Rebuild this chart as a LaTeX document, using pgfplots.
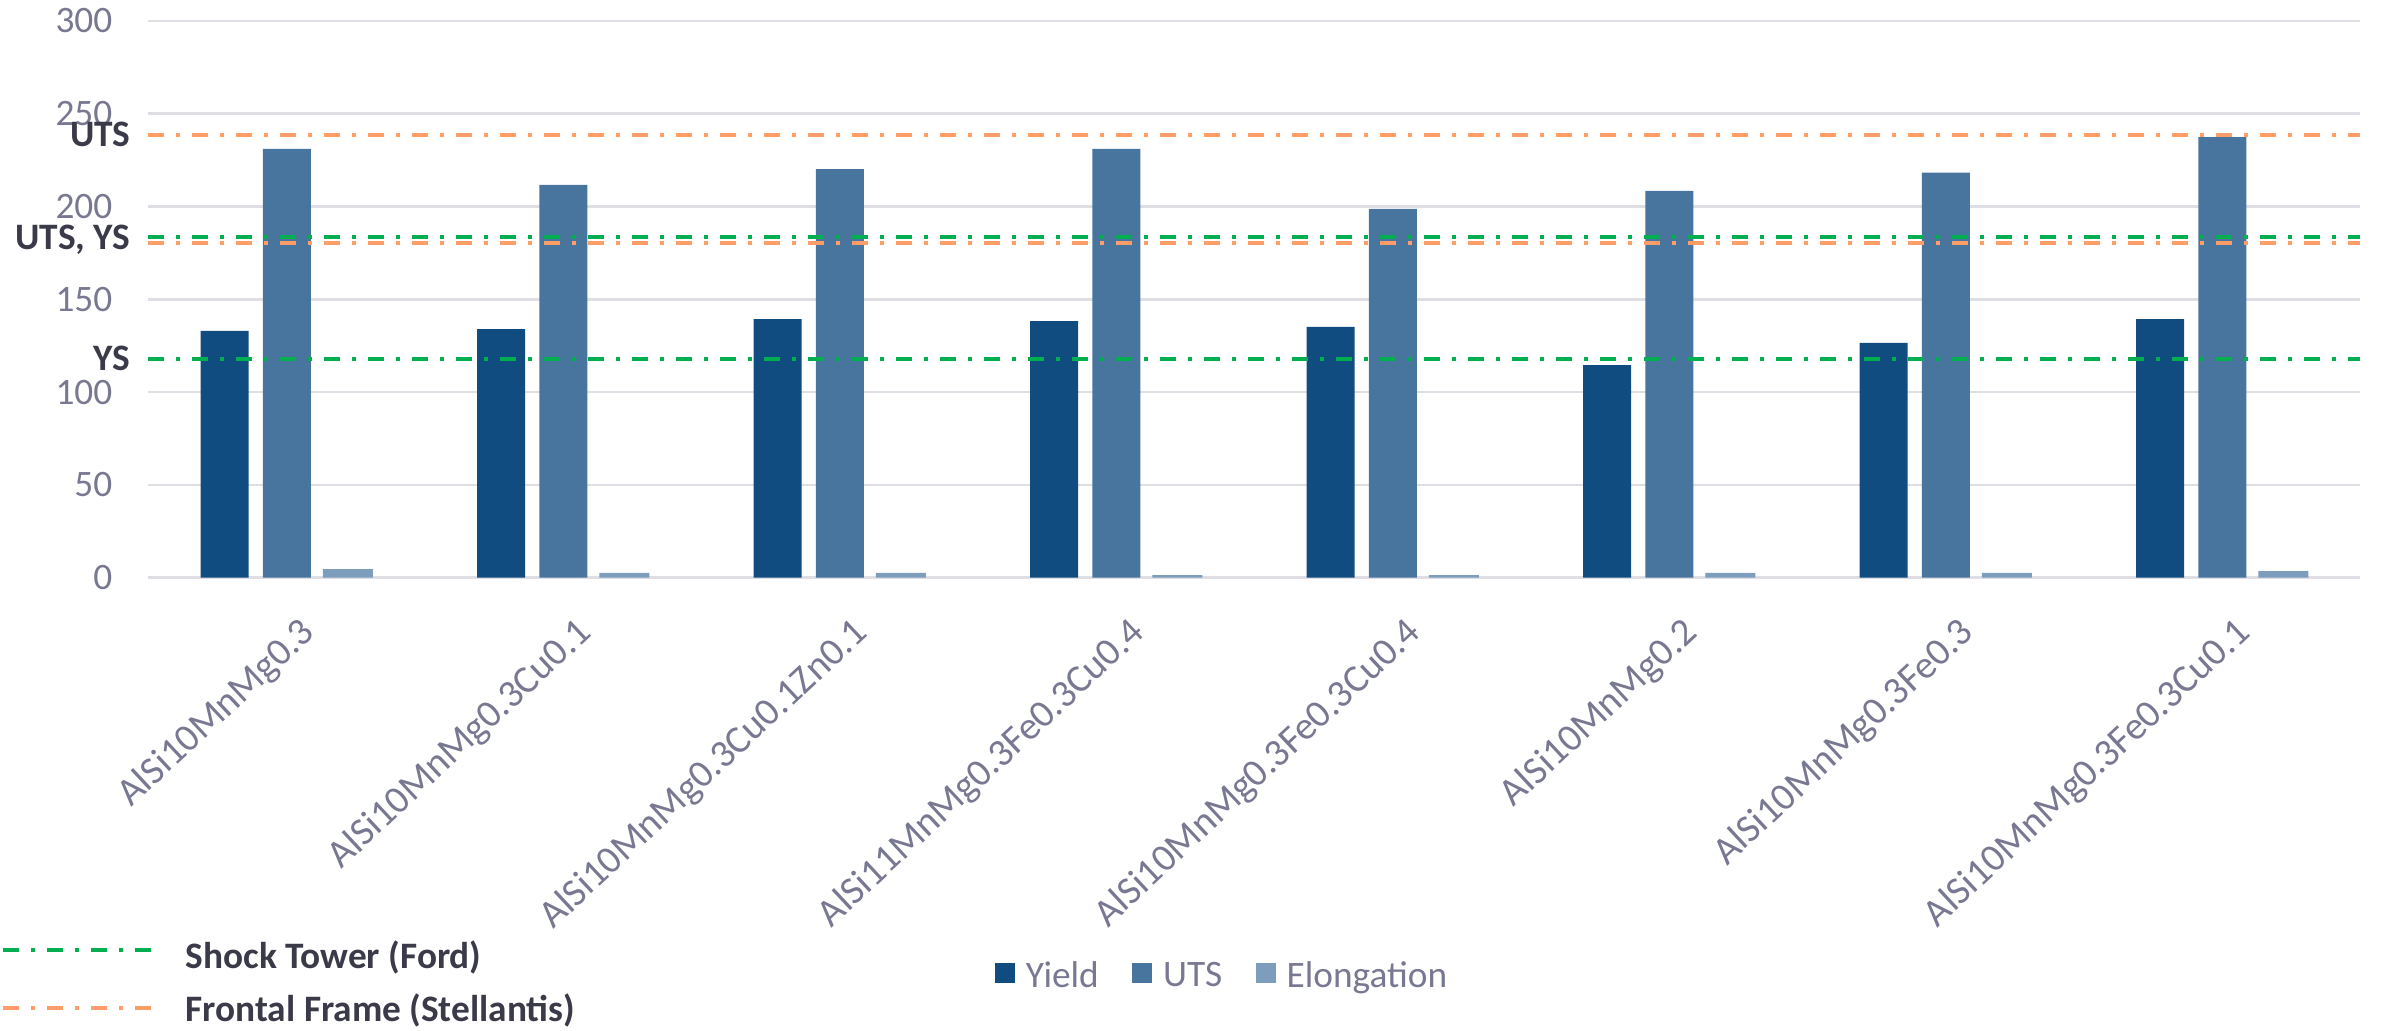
\documentclass[border=0pt]{standalone}
\usepackage{fontspec}
\setmainfont{Carlito}
\usepackage{pgfplots}
\pgfplotsset{compat=1.18}
\definecolor{tickc}{RGB}{120,120,146}
\definecolor{darkc}{RGB}{58,58,72}
\definecolor{gridc}{RGB}{222,222,228}
\definecolor{yieldc}{RGB}{17,76,128}
\definecolor{utsc}{RGB}{72,117,157}
\definecolor{elongc}{RGB}{124,157,188}
\definecolor{greenc}{RGB}{0,176,80}
\definecolor{orangec}{RGB}{255,157,104}
\tikzset{refdash/.style={line width=1.2pt, dash pattern=on 4.8pt off 3.6pt on 1.2pt off 3.6pt}}
\begin{document}
\fontsize{11.2pt}{13pt}\selectfont
\begin{tikzpicture}
\path[use as bounding box] (0pt,0pt) rectangle (714.6pt,-309pt);
\begin{axis}[
  at={(44.4pt,-173.31pt)}, anchor=south west,
  scale only axis, width=663.6pt, height=167.04pt,
  xmin=-0.5, xmax=7.5, ymin=0, ymax=300,
  ytick={0,50,...,300},
  xtick={0,...,7},
  xticklabels={AlSi10MnMg0.3,AlSi10MnMg0.3Cu0.1,AlSi10MnMg0.3Cu0.1Zn0.1,AlSi11MnMg0.3Fe0.3Cu0.4,AlSi10MnMg0.3Fe0.3Cu0.4,AlSi10MnMg0.2,AlSi10MnMg0.3Fe0.3,AlSi10MnMg0.3Fe0.3Cu0.1},
  ymajorgrids, grid style={draw=gridc, line width=0.75pt},
  axis line style={draw=none},
  major tick length=0pt,
  tick label style={text=tickc},
  /pgf/number format/assume math mode=true,
  yticklabel style={anchor=east, inner sep=0pt, xshift=-10.5pt},
  xticklabel style={xshift=3.5pt, yshift=-11pt, rotate=43, anchor=north east, inner sep=0pt, font=\fontsize{11.7pt}{13pt}\selectfont},
  clip=false,
  legend columns=3,
  legend style={at={(0.4851,-0.7171)}, anchor=center, draw=none, fill=none,
    text=tickc, inner sep=0pt, nodes={inner sep=0pt},
    /tikz/every odd column/.style={column sep=3.3pt},
    /tikz/every even column/.style={column sep=10pt}},
]
\addplot[ybar, bar width=14.4pt, bar shift=-18.5pt, fill=yieldc, draw=none,
  legend image code/.code={\fill[yieldc] (0pt,-1.8pt) rectangle (6pt,4.2pt);}]
  coordinates {(0,133) (1,134) (2,139.4) (3,138.3) (4,135.1) (5,114.6) (6,126.5) (7,139.4)};
\addlegendentry{Yield}
\addplot[ybar, bar width=14.4pt, bar shift=0.2pt, fill=utsc, draw=none,
  legend image code/.code={\fill[utsc] (0pt,-1.8pt) rectangle (6pt,4.2pt);}]
  coordinates {(0,231.0) (1,211.6) (2,220.2) (3,231.0) (4,198.8) (5,208.4) (6,218.2) (7,237.4)};
\addlegendentry{UTS}
\addplot[ybar, bar width=15pt, bar shift=18.5pt, fill=elongc, draw=none,
  legend image code/.code={\fill[elongc] (0pt,-1.8pt) rectangle (6pt,4.2pt);}]
  coordinates {(0,4.7) (1,2.6) (2,2.6) (3,1.4) (4,1.4) (5,2.6) (6,2.6) (7,3.6)};
\addlegendentry{Elongation}
\addplot[orangec, refdash, forget plot] coordinates {(-0.5,238.7) (7.5,238.7)};
\addplot[greenc, refdash, forget plot] coordinates {(-0.5,183.7) (7.5,183.7)};
\addplot[orangec, refdash, forget plot] coordinates {(-0.5,180.5) (7.5,180.5)};
\addplot[greenc, refdash, forget plot] coordinates {(-0.5,118) (7.5,118)};
\node[anchor=east, inner sep=0pt, font=\bfseries, text=darkc, xshift=-5.1pt] at (axis cs:-0.5,238.7) {UTS};
\node[anchor=east, inner sep=0pt, font=\bfseries, text=darkc, xshift=-5.1pt] at (axis cs:-0.5,182.1) {UTS, YS};
\node[anchor=east, inner sep=0pt, font=\bfseries, text=darkc, xshift=-5.1pt] at (axis cs:-0.5,118) {YS};
\end{axis}
\draw[greenc, refdash] (0.9pt,-285pt) -- (45.6pt,-285pt);
\draw[orangec, refdash] (0.9pt,-302.4pt) -- (45.6pt,-302.4pt);
\node[anchor=west, inner sep=0pt, font=\bfseries, text=darkc] at (55.5pt,-287.1pt) {Shock Tower (Ford)};
\node[anchor=west, inner sep=0pt, font=\bfseries, text=darkc] at (55.5pt,-303pt) {Frontal Frame (Stellantis)};
\end{tikzpicture}
\end{document}
